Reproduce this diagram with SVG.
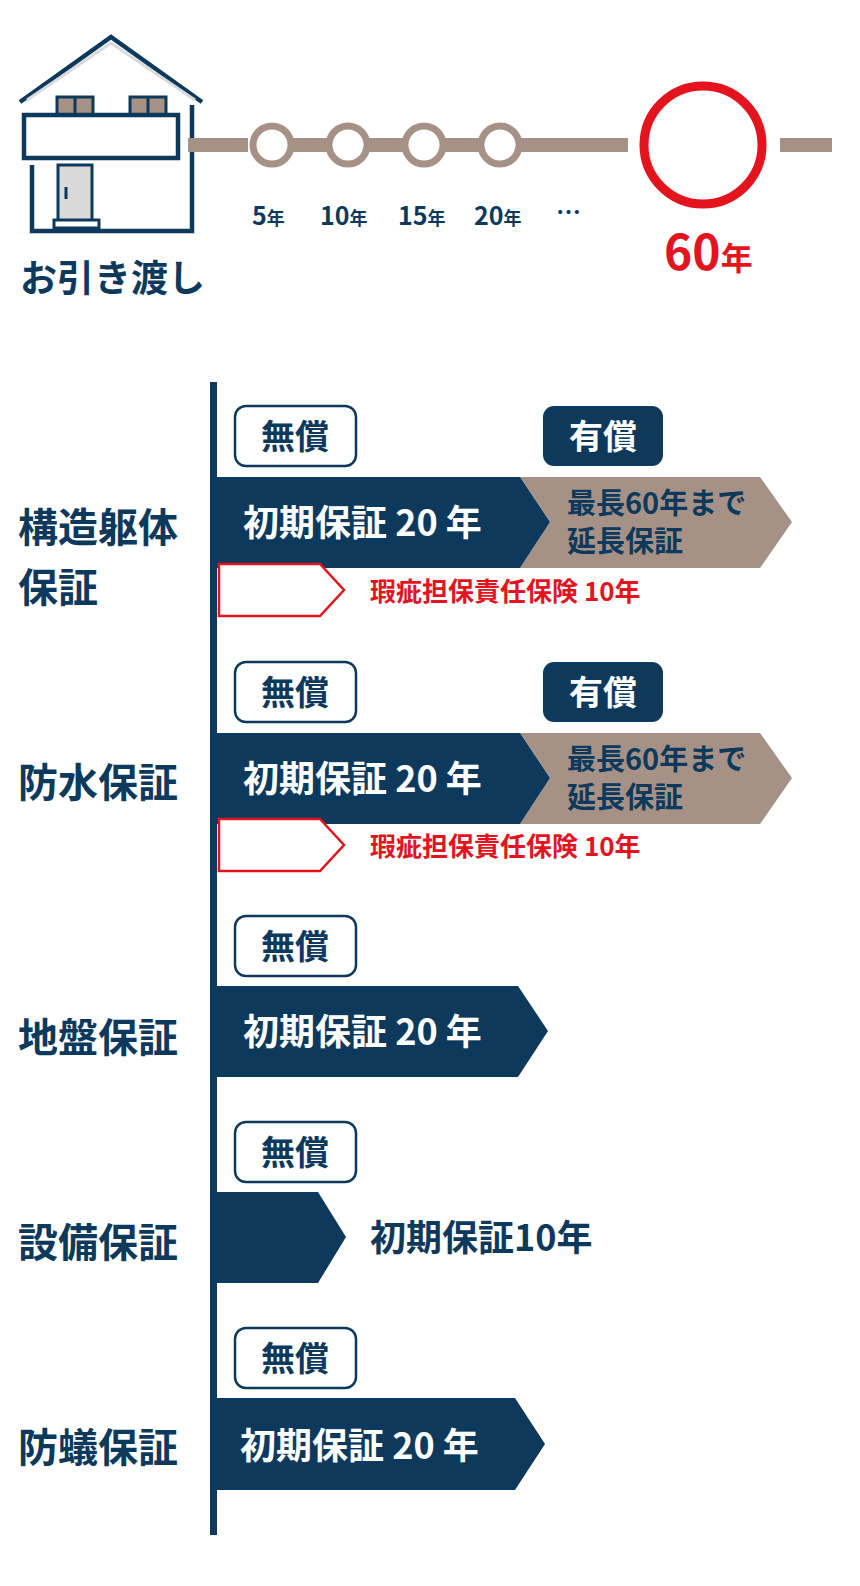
<svg xmlns="http://www.w3.org/2000/svg" width="860" height="1586" viewBox="0 0 860 1586">
<style>
text{font-family:"Noto Sans CJK JP","Noto Sans",sans-serif;font-weight:700}
.nv{fill:#0d3a5c}.tan{fill:#a69186}.w{fill:#fff}.rd{fill:#e3141e}
.free{fill:#fff;stroke:#0d3a5c;stroke-width:2.5}
.hs{fill:none;stroke:#0d3a5c;stroke-width:4.5}
.lbl{font-size:40px}.bd{font-size:36px}.tag{font-size:34px}.ext{font-size:29px}.ins{font-size:26px}
</style>
<rect width="860" height="1586" fill="#fff"/>
<g id="house">
<polyline points="20,102 111,37 202,102" class="hs"/>
<polyline points="27,100 111,43 195,100" fill="none" stroke="#d8dadd" stroke-width="3"/>
<rect x="57" y="97" width="36" height="18" fill="#a69186" stroke="#0d3a5c" stroke-width="3"/>
<line x1="75" y1="97" x2="75" y2="115" stroke="#0d3a5c" stroke-width="3"/>
<rect x="130" y="97" width="36" height="18" fill="#a69186" stroke="#0d3a5c" stroke-width="3"/>
<line x1="148" y1="97" x2="148" y2="115" stroke="#0d3a5c" stroke-width="3"/>
<path d="M30 115H178V158H24V115H44M32 165V231H192V105" class="hs"/>
<rect x="58" y="165" width="34" height="57" fill="#d9d9d9" stroke="#0d3a5c" stroke-width="3"/>
<rect x="54" y="220" width="45" height="8" fill="#fff" stroke="#0d3a5c" stroke-width="3"/>
<line x1="66" y1="187" x2="66" y2="199" stroke="#0d3a5c" stroke-width="3"/>
<text x="20" y="292" font-size="37" class="nv">お引き渡し</text>
</g>
<g id="timeline">
<rect x="188" y="138" width="60" height="14" class="tan"/>
<rect x="290" y="138" width="40" height="14" class="tan"/>
<rect x="366" y="138" width="40" height="14" class="tan"/>
<rect x="442" y="138" width="40" height="14" class="tan"/>
<rect x="518" y="138" width="110" height="14" class="tan"/>
<rect x="780" y="138" width="52" height="14" class="tan"/>
<g fill="#fff" stroke="#a69186" stroke-width="7">
<circle cx="272" cy="145" r="19"/><circle cx="348" cy="145" r="19"/><circle cx="424" cy="145" r="19"/><circle cx="500" cy="145" r="19"/>
</g>
<circle cx="703" cy="145" r="59" fill="#fff" stroke="#e3141e" stroke-width="9"/>
<g class="nv" font-size="25">
<text x="252" y="225">5<tspan font-size="18">年</tspan></text>
<text x="320" y="225">10<tspan font-size="18">年</tspan></text>
<text x="398" y="225">15<tspan font-size="18">年</tspan></text>
<text x="474" y="225">20<tspan font-size="18">年</tspan></text>
<text x="556" y="222">…</text>
</g>
<text x="664" y="270" font-size="48" class="rd">60<tspan font-size="32">年</tspan></text>
</g>
<g id="axis"><rect x="210" y="382" width="7" height="1153" class="nv"/></g>
<g id="row-structure">
<text x="18" y="542" class="nv lbl">構造躯体</text>
<text x="18" y="602" class="nv lbl">保証</text>
<rect x="235" y="406" width="121" height="60" rx="11" class="free"/>
<text x="295" y="449" text-anchor="middle" class="nv tag">無償</text>
<rect x="543" y="406" width="120" height="60" rx="11" class="nv"/>
<text x="603" y="449" text-anchor="middle" class="w tag">有償</text>
<polygon points="520,477 760,477 792,522 760,568 520,568 550,522" class="tan"/>
<polygon points="216,477 520,477 550,522 520,568 216,568" class="nv"/>
<text x="243" y="536" class="w bd">初期保証 20 年</text>
<text x="567" y="514" class="nv ext">最長60年まで</text>
<text x="567" y="552" class="nv ext">延長保証</text>
<polygon points="219,564 320,564 344,590 320,616 219,616" fill="#fff" stroke="#e3141e" stroke-width="2.5"/>
<text x="370" y="601" class="rd ins">瑕疵担保責任保険 10年</text>
</g>
<g id="row-waterproof">
<text x="18" y="797" class="nv lbl">防水保証</text>
<rect x="235" y="662" width="121" height="60" rx="11" class="free"/>
<text x="295" y="705" text-anchor="middle" class="nv tag">無償</text>
<rect x="543" y="662" width="120" height="60" rx="11" class="nv"/>
<text x="603" y="705" text-anchor="middle" class="w tag">有償</text>
<polygon points="520,733 760,733 792,778 760,824 520,824 550,778" class="tan"/>
<polygon points="216,733 520,733 550,778 520,824 216,824" class="nv"/>
<text x="243" y="792" class="w bd">初期保証 20 年</text>
<text x="567" y="770" class="nv ext">最長60年まで</text>
<text x="567" y="808" class="nv ext">延長保証</text>
<polygon points="219,819 320,819 344,845 320,871 219,871" fill="#fff" stroke="#e3141e" stroke-width="2.5"/>
<text x="370" y="856" class="rd ins">瑕疵担保責任保険 10年</text>
</g>
<g id="row-ground">
<text x="18" y="1052" class="nv lbl">地盤保証</text>
<rect x="235" y="916" width="121" height="60" rx="11" class="free"/>
<text x="295" y="959" text-anchor="middle" class="nv tag">無償</text>
<polygon points="216,986 518,986 548,1031 518,1077 216,1077" class="nv"/>
<text x="243" y="1045" class="w bd">初期保証 20 年</text>
</g>
<g id="row-equipment">
<text x="18" y="1257" class="nv lbl">設備保証</text>
<rect x="235" y="1122" width="121" height="60" rx="11" class="free"/>
<text x="295" y="1165" text-anchor="middle" class="nv tag">無償</text>
<polygon points="216,1192 318,1192 346,1237 318,1283 216,1283" class="nv"/>
<text x="370" y="1251" class="nv bd">初期保証10年</text>
</g>
<g id="row-termite">
<text x="18" y="1462" class="nv lbl">防蟻保証</text>
<rect x="235" y="1328" width="121" height="60" rx="11" class="free"/>
<text x="295" y="1371" text-anchor="middle" class="nv tag">無償</text>
<polygon points="216,1398 515,1398 545,1444 515,1490 216,1490" class="nv"/>
<text x="240" y="1459" class="w bd">初期保証 20 年</text>
</g>
</svg>
